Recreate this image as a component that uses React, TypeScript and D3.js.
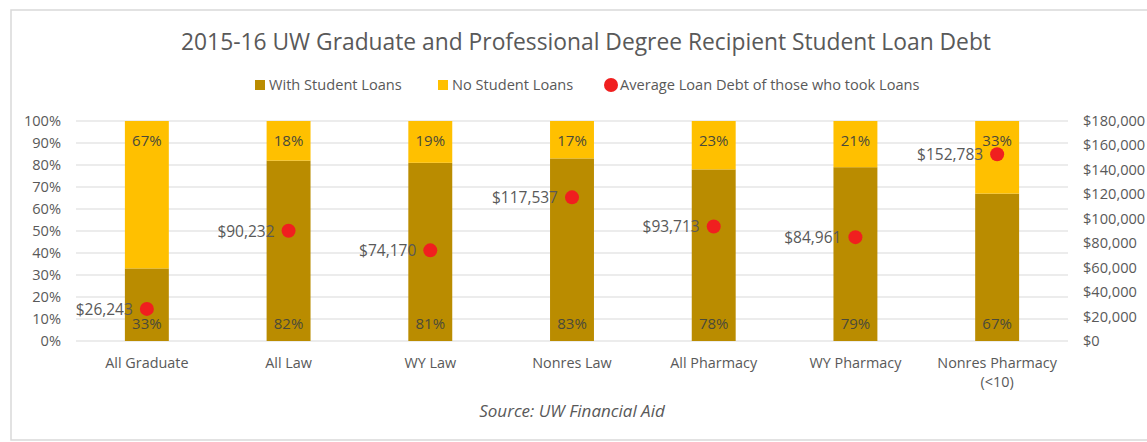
import React from "react";
import * as d3 from "d3";

const categories = ["All Graduate", "All Law", "WY Law", "Nonres Law", "All Pharmacy", "WY Pharmacy", "Nonres Pharmacy (<10)"];
const withLoans = [33, 82, 81, 83, 78, 79, 67];
const noLoans = [67, 18, 19, 17, 23, 21, 33];
const avgDebt = [26243, 90232, 74170, 117537, 93713, 84961, 152783];
const pctTicks = [0, 10, 20, 30, 40, 50, 60, 70, 80, 90, 100];
const debtTicks = [0, 20000, 40000, 60000, 80000, 100000, 120000, 140000, 160000, 180000];

const W = 1147, H = 442;
const left = 76, right = 1068, top = 121, bottom = 341;
const FONT = "'Open Sans', 'Liberation Sans', sans-serif";
const TXT = "#595959";
const C_WITH = "#BA8C00";
const C_NO = "#FFC000";
const C_DOT = "#F01F1F";

export default function App() {
  const x = d3.scaleBand().domain(categories).range([left, right]).paddingInner(0.69).paddingOuter(0.345);
  const yP = d3.scaleLinear().domain([0, 100]).range([bottom, top]);
  const yD = d3.scaleLinear().domain([0, 180000]).range([bottom, top]);
  const fmtD = (v: number) => "$" + d3.format(",")(v);
  const bw = x.bandwidth();

  return (
    <svg width={W} height={H} style={{ position: "absolute", left: 0, top: 0, background: "#fff" }} fontFamily={FONT}>
      <rect x={11} y={10} width={W + 20} height={430} fill="#fff" stroke="#d9d9d9" strokeWidth={1.5} />
      <text x={586} y={50} textAnchor="middle" fontSize={22.8} fill={TXT}>
        2015-16 UW Graduate and Professional Degree Recipient Student Loan Debt
      </text>
      {/* legend */}
      <g fontSize={14.6} fill={TXT}>
        <rect x={255} y={80} width={10} height={10} fill={C_WITH} />
        <text x={269} y={90}>With Student Loans</text>
        <rect x={438} y={80} width={10} height={10} fill={C_NO} />
        <text x={452} y={90}>No Student Loans</text>
        <circle cx={611} cy={85} r={7} fill={C_DOT} />
        <text x={620} y={90}>Average Loan Debt of those who took Loans</text>
      </g>
      {/* gridlines */}
      {pctTicks.map((t) => (
        <line key={t} x1={left} x2={right} y1={yP(t)} y2={yP(t)} stroke="#d9d9d9" strokeWidth={1.2} />
      ))}
      {/* left axis */}
      {pctTicks.map((t) => (
        <text key={"l" + t} x={61} y={yP(t) + 5} textAnchor="end" fontSize={14.6} fill={TXT}>{t}%</text>
      ))}
      {/* right axis */}
      {debtTicks.map((t) => (
        <text key={"r" + t} x={1083} y={yD(t) + 5} textAnchor="start" fontSize={14.6} fill={TXT}>{fmtD(t)}</text>
      ))}
      {/* bars */}
      {categories.map((c, i) => {
        const topVal = Math.min(100, withLoans[i] + noLoans[i]);
        return (
          <g key={c}>
            <rect x={x(c)} y={yP(withLoans[i])} width={bw} height={yP(0) - yP(withLoans[i])} fill={C_WITH} />
            <rect x={x(c)} y={yP(topVal)} width={bw} height={yP(withLoans[i]) - yP(topVal)} fill={C_NO} />
            <text x={x(c)! + bw / 2} y={yP(0) - 12} textAnchor="middle" fontSize={15} fill="#4a4a3a">{withLoans[i]}%</text>
            <text x={x(c)! + bw / 2} y={yP(100) + 25} textAnchor="middle" fontSize={15} fill="#4a4a3a">{noLoans[i]}%</text>
          </g>
        );
      })}
      {/* dots */}
      {categories.map((c, i) => {
        const cx = x(c)! + bw / 2;
        const cy = yD(avgDebt[i]);
        return (
          <g key={"d" + c}>
            <circle cx={cx} cy={cy} r={7} fill={C_DOT} />
            <text x={cx - 14} y={cy + 6} textAnchor="end" fontSize={15.5} fill={TXT}>{fmtD(avgDebt[i])}</text>
          </g>
        );
      })}
      {/* category labels */}
      {categories.map((c) => {
        const cx = x(c)! + bw / 2;
        const parts = c === "Nonres Pharmacy (<10)" ? ["Nonres Pharmacy", "(<10)"] : [c];
        return (
          <text key={"c" + c} x={cx} y={368} textAnchor="middle" fontSize={14.4} fill={TXT}>
            {parts.map((p, j) => (
              <tspan key={j} x={cx} dy={j === 0 ? 0 : 19}>{p}</tspan>
            ))}
          </text>
        );
      })}
      <text x={572} y={417} textAnchor="middle" fontSize={17} fontStyle="italic" fill={TXT}>Source: UW Financial Aid</text>
    </svg>
  );
}
